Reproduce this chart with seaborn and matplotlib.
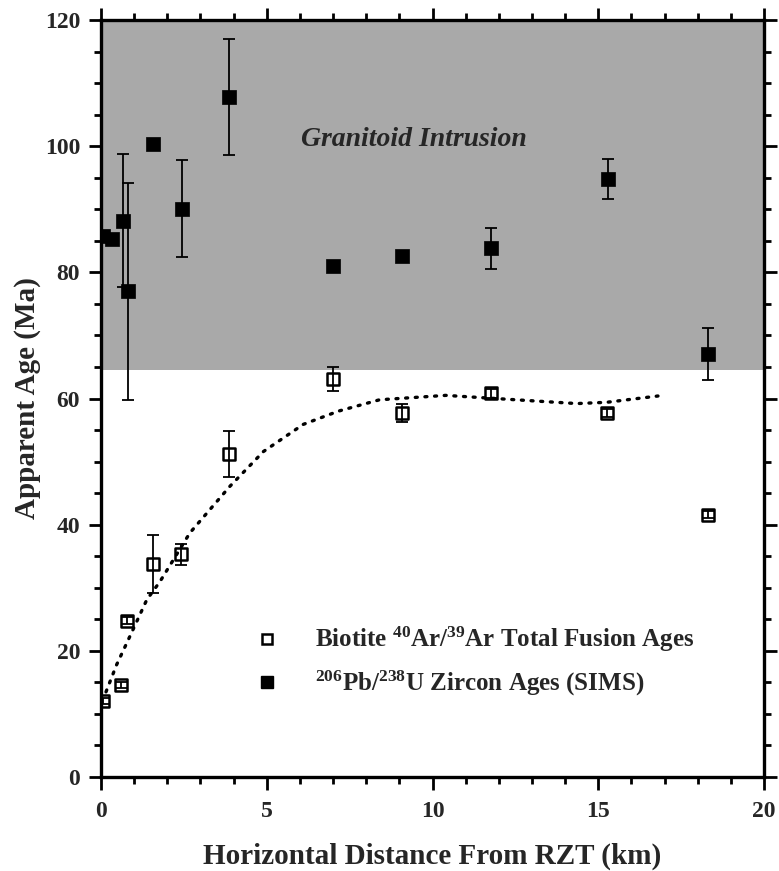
import numpy as np
import pandas as pd
import matplotlib
matplotlib.use("Agg")
import matplotlib.pyplot as plt
import seaborn as sns
from matplotlib.ticker import MultipleLocator
from matplotlib.lines import Line2D

# ---- data ----
biotite_x = [0.07, 0.6, 0.78, 1.57, 2.4, 3.85, 7.0, 9.07, 11.75, 15.25, 18.3]
biotite_y = [12.0, 14.6, 24.8, 33.8, 35.3, 51.2, 63.1, 57.7, 60.8, 57.7, 41.6]
biotite_err = [0.5, 0.5, 0.6, 4.6, 1.7, 3.7, 1.9, 1.4, 0.7, 0.6, 0.5]

zircon_x = [0.07, 0.33, 0.65, 0.8, 1.58, 2.43, 3.87, 7.0, 9.07, 11.76, 15.3, 18.3]
zircon_y = [85.8, 85.3, 88.2, 77.0, 100.3, 90.1, 107.8, 81.0, 82.6, 83.8, 94.8, 67.1]
zircon_err = [0.0, 0.0, 10.5, 17.2, 0.0, 7.7, 9.2, 0.0, 0.0, 3.3, 3.2, 4.1]

trend_x = [0.15, 0.47, 0.87, 1.38, 1.78, 2.68, 3.89, 4.9, 6.1, 7.16, 8.4, 10.4, 11.6, 14.35, 15.25, 16.8]
trend_y = [13.5, 17.8, 22.3, 28.1, 31.0, 38.7, 46.1, 51.6, 55.9, 58.0, 59.8, 60.5, 60.1, 59.2, 59.4, 60.4]

intrusion_bottom = 64.5
y_max = 120

bio = pd.DataFrame({"x": biotite_x, "y": biotite_y})
zir = pd.DataFrame({"x": zircon_x, "y": zircon_y})
trend = pd.DataFrame({"x": trend_x, "y": trend_y})

sns.set_theme(style="white")
plt.rcParams["font.family"] = ["Liberation Serif", "DejaVu Serif"]
plt.rcParams["font.weight"] = "bold"
plt.rcParams["mathtext.fontset"] = "custom"
plt.rcParams["mathtext.rm"] = "Liberation Serif:bold"
plt.rcParams["mathtext.bf"] = "Liberation Serif:bold"
plt.rcParams["mathtext.it"] = "Liberation Serif:bold:italic"

fig = plt.figure(figsize=(7.79, 8.71), dpi=100)
ax = fig.add_axes([0.1297, 0.1079, 0.8511, 0.8691])

ax.axhspan(intrusion_bottom, y_max, color="#a9a9a9", zorder=0, lw=0)

sns.lineplot(data=trend, x="x", y="y", sort=False, ax=ax, color="black",
             lw=2.4, linestyle=(0, (0.6, 2.3)), dash_capstyle="round", zorder=2)

ax.errorbar(biotite_x, biotite_y, yerr=biotite_err, fmt="none", ecolor="black",
            elinewidth=1.3, capsize=4, capthick=1.3, zorder=3)
ax.errorbar(zircon_x, zircon_y, yerr=zircon_err, fmt="none", ecolor="black",
            elinewidth=1.3, capsize=4, capthick=1.3, zorder=3)

sns.scatterplot(data=bio, x="x", y="y", ax=ax, marker="s", s=75,
                facecolor="none", edgecolor="black", linewidth=1.8, zorder=4)
sns.scatterplot(data=zir, x="x", y="y", ax=ax, marker="s", s=100,
                color="black", edgecolor="black", linewidth=0.5, zorder=4)

ax.set_xlim(0, 20)
ax.set_ylim(0, y_max)
ax.xaxis.set_major_locator(MultipleLocator(5))
ax.xaxis.set_minor_locator(MultipleLocator(1))
ax.yaxis.set_major_locator(MultipleLocator(20))
ax.yaxis.set_minor_locator(MultipleLocator(5))
ax.tick_params(which="both", direction="out", top=True, right=True,
               bottom=True, left=True, width=2, color="black",
               labeltop=False, labelright=False)
ax.tick_params(which="major", length=9, labelsize=17, pad=6)
ax.tick_params(axis="x", which="major", pad=8)
ax.tick_params(which="minor", length=5)
for lab in ax.get_xticklabels() + ax.get_yticklabels():
    lab.set_fontweight("bold")
for sp in ax.spines.values():
    sp.set_visible(True)
    sp.set_linewidth(2.4)
    sp.set_color("black")

ax.set_xlabel("Horizontal Distance From RZT (km)", fontsize=21, fontweight="bold", labelpad=15)
ax.set_ylabel("Apparent Age (Ma)", fontsize=21, fontweight="bold", labelpad=3)

ax.text(9.45, 101, "Granitoid Intrusion", fontsize=20, fontweight="bold",
        fontstyle="italic", ha="center", va="center", zorder=5)

handles = [
    Line2D([], [], marker="s", linestyle="none", markersize=7.5, markerfacecolor="none",
           markeredgecolor="black", markeredgewidth=1.8),
    Line2D([], [], marker="s", linestyle="none", markersize=8, markerfacecolor="black",
           markeredgecolor="black"),
]
labels = [r"Biotite $^{40}$Ar/$^{39}$Ar Total Fusion Ages",
          r"$^{206}$Pb/$^{238}$U Zircon Ages (SIMS)"]
leg = ax.legend(handles, labels, loc="upper left", bbox_to_anchor=(0.198, 0.214),
                frameon=False, handletextpad=0.9, labelspacing=0.6, borderaxespad=0,
                prop={"weight": "bold", "size": 18})

fig.savefig("out.png", dpi=100)
